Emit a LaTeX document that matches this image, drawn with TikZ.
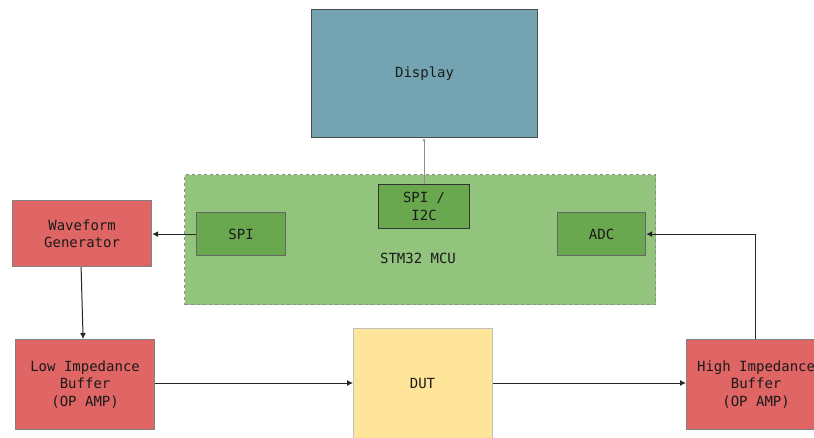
\documentclass[tikz,border=0pt]{standalone}
\usepackage{fontspec}
\setmonofont{DejaVu Sans Mono}
\usetikzlibrary{arrows.meta}
\definecolor{dispfill}{HTML}{74A4B2}
\definecolor{mcufill}{HTML}{93C47D}
\definecolor{perfill}{HTML}{6AA84F}
\definecolor{redfill}{HTML}{E06666}
\definecolor{dutfill}{HTML}{FFE599}
\definecolor{txt}{HTML}{1A1A1A}
\tikzset{
  lbl/.style={font=\ttfamily\fontsize{14}{17.5}\selectfont, text=txt},
  blk/.style={draw=#1, line width=1.2pt, inner sep=0pt, align=center, lbl},
  wire/.style={draw=black!85, line width=1pt, -{Latex[length=6pt,width=6pt]}},
}
\begin{document}
\begin{tikzpicture}[x=1pt,y=-1pt]
\useasboundingbox (0,0) rectangle (814,438);
% microcontroller outline
\node[blk=black!45, dashed, fill=mcufill, minimum width=471, minimum height=130, anchor=north west] (mcu) at (184,174) {};
\node[lbl] (mculbl) at (418,258) {STM32 MCU};
% peripherals inside the MCU
\node[blk=black!80, fill=perfill, minimum width=91, minimum height=44, anchor=north west] (bus) at (378,184) {SPI /\\I2C};
\node[blk=black!60, fill=perfill, minimum width=89, minimum height=43, anchor=north west] (spi) at (196,212) {SPI};
\node[blk=black!60, fill=perfill, minimum width=88, minimum height=43, anchor=north west] (adc) at (557,212) {ADC};
% outer blocks
\node[blk=black!70, fill=dispfill, minimum width=226, minimum height=128, anchor=north west] (disp) at (311,9) {Display};
\node[blk=black!50, fill=redfill, minimum width=139, minimum height=66, anchor=north west] (wave) at (12,200) {Waveform\\Generator};
\node[blk=black!50, fill=redfill, minimum width=139, minimum height=90, anchor=north west] (low) at (15,339) {Low Impedance\\Buffer\\(OP AMP)};
\node[blk=black!25, fill=dutfill, minimum width=139, minimum height=115, anchor=north west] (dut) at (353,328) {};
\node[lbl] (dutlbl) at (422.5,383) {DUT};
\node[blk=black!50, fill=redfill, minimum width=139, minimum height=90, anchor=north west] (high) at (686,339) {High Impedance\\Buffer\\(OP AMP)};
% connections
\draw[draw=black!45, line width=1pt, -{Latex[length=3pt,width=3pt]}] (bus.north) -- (disp.south -| bus.north);
\draw[wire] (spi.west) -- (wave.east |- spi.west);
\draw[wire] ([xshift=-1]wave.south) -- ([xshift=-2]low.north);
\draw[wire] (low.east |- dutlbl) -- (dut.west |- dutlbl);
\draw[wire] (dut.east |- dutlbl) -- (high.west |- dutlbl);
\draw[wire] ([xshift=-1]high.north) |- (adc.east);
\end{tikzpicture}
\end{document}
